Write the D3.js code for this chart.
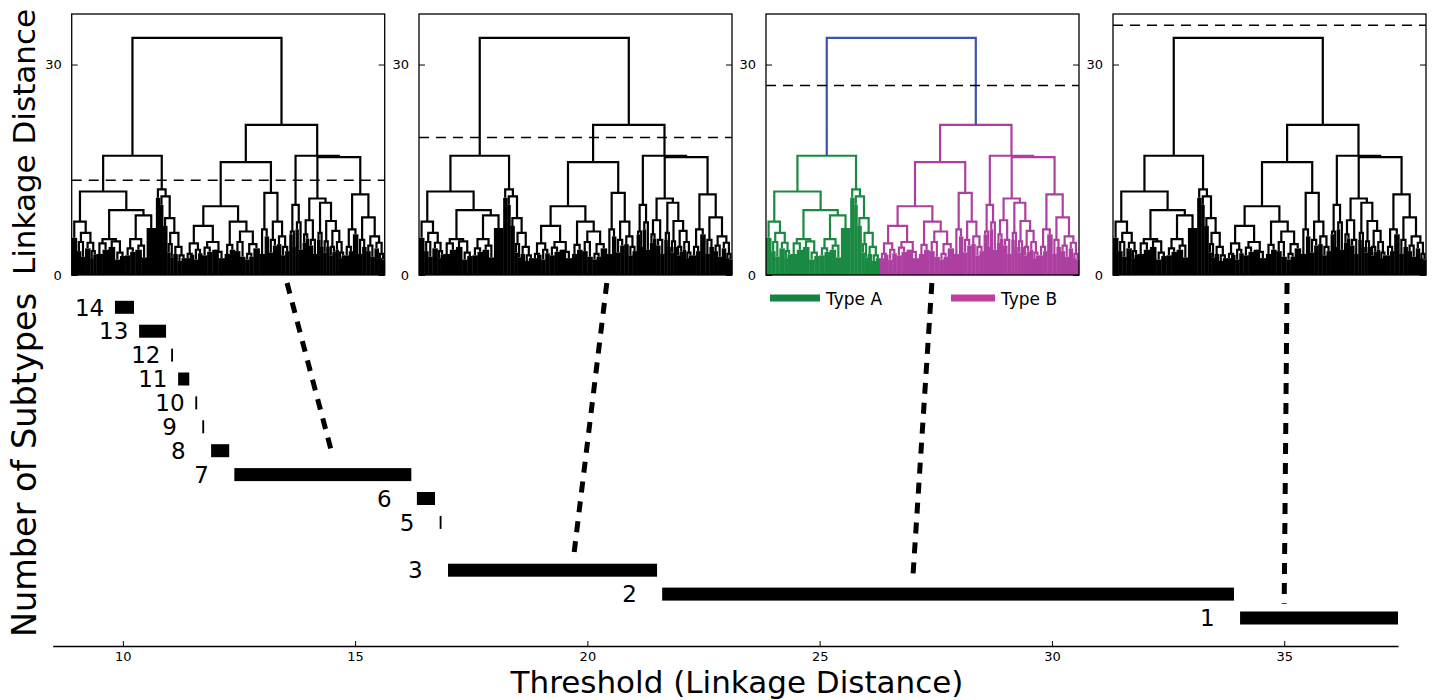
<!DOCTYPE html>
<html lang="en">
<head>
<meta charset="UTF-8">
<script src="https://d3js.org/d3.v7.min.js"></script>
<title>Number of subtypes vs threshold</title>
<style>
    body { margin: 0; background: #fff; }
    text { font-family: "DejaVu Sans", sans-serif; fill: #000; }
</style>
</head>
<body>
<div id="chart"></div>
<script>
    /*------------------- data --------------------*/
    // bottom panel: threshold range giving each number of subtypes
    const subtypeCounts = [14, 13, 12, 11, 10, 9, 8, 7, 6, 5, 3, 2, 1];
    const rangeStart = [9.83, 10.35, 11.04, 11.19, 11.56, 11.71, 11.90, 12.40, 16.33, 16.82, 17.00, 21.61, 34.05];
    const rangeEnd = [10.24, 10.93, 11.08, 11.43, 11.60, 11.75, 12.29, 16.21, 16.72, 16.86, 21.50, 33.92, 37.45];
    const thresholdTicks = [10, 15, 20, 25, 30, 35];

    // dendrogram panels: cut height drawn in each, and where its connector lands
    const panelCuts = [13.5, 19.6, 27.0, 35.6];
    const connectorThreshold = [14.5, 19.7, 27.0, 35.0];
    const connectorLevel = [7.9, 3.5, 2.5, 1.6];
    const connectorFrom = [0.688, 0.60, 0.53, 0.556];
    const linkageTicks = [0, 30];

    // tree: node = [height, left, right], leaf cluster = [size, height]
    const groupL1a = [7.6, [5, 5.3], [6.0, [4.7, [4, 3.4], [4, 2.6]], [4.6, [5, 3.8], [3.4, [3, 2.4], [3, 2.9]]]]];
    const groupL1b = [9.25,
        [5.1, [4.5, [6, 3.0], [6, 3.6]], [4.8, [6, 4.0], [3.2, [5, 2.2], [5, 2.7]]]],
        [8.5, [5.1, [3.8, [5, 2.8], [5, 3.3]], [4.2, [6, 3.6], [5, 2.5]]], [9, 6.7]]];
    const groupL2 = [12.2, [4, 11.0], [11.2, [3, 10.0], [8.1, [4, 7.0],
        [6.0, [4.4, [3, 3.2], [3, 2.5]], [4.0, [4, 3.0], [2.8, [4, 2.0], [4, 2.4]]]]]]];
    const groupR1a = [9.8,
        [7.0, [4.5, [3.0, [4, 2.4], [4, 2.9]], [3.6, [4, 2.2], [4, 3.1]]], [4.7, [3.9, [5, 2.8], [5, 3.3]], [3.3, [6, 3.6], [6, 2.4]]]],
        [7.6, [4.3, [5, 3.0], [5, 3.6]], [6.2, [4.7, [5, 3.4], [5, 2.6]], [4.4, [3.0, [4, 2.2], [4, 2.6]], [6, 3.8]]]]];
    const groupR1b = [11.7, [6.5, [5, 3.0], [4, 5.5]],
        [7.6, [5.0, [4, 3.2], [4, 4.2]], [5.5, [4, 4.4], [4.0, [4, 2.8], [4, 3.4]]]]];
    const groupR2a = [10.0, [6.2, [3, 5.8], [3, 4.0]], [7.5, [3, 6.5], [4, 3.6]]];
    const groupR2b = [16.8,
        [10.9, [7.8, [5.8, [3, 4.6], [3, 5.2]], [5.0, [4, 4.2], [4, 3.0]]],
            [10.3, [6.0, [3, 5.0], [3, 4.0]], [7.7, [4.8, [3, 3.2], [3, 4.0]],
                [6.3, [4.0, [3, 2.8], [3, 3.3]], [4.7, [3, 3.6], [3.2, [3, 2.4], [3, 2.8]]]]]]],
        [11.5, [6.5, [4.0, [4, 2.8], [4, 3.4]], [5, 5.8]],
            [8.2, [5.0, [4, 3.0], [4, 4.0]], [5.5, [4.2, [4, 3.4], [4, 2.6]], [4.6, [4, 3.8], [3.0, [3, 2.4], [3, 2.2]]]]]]];
    const dendroTree = [33.8,
        [17.0, [11.9, groupL1a, groupL1b], groupL2],
        [21.4, [16.1, groupR1a, groupR1b], [17.0, groupR2a, groupR2b]]];

    const clusterNames = ["Type A", "Type B"];
    const clusterColors = ["#1a8a42", "#ad3fa0"];
    const legendColors = ["#148443", "#c23d9c"];
    const aboveColor = "#3d52b3";

    /*------------------- layout --------------------*/
    const width = 1434, height = 700;
    const svg = d3.select("#chart").append("svg")
        .attr("width", width)
        .attr("height", height);

    const x = d3.scaleLinear().domain([8.49, 37.45]).range([52.7, 1398]);
    const y = d3.scaleLinear().domain([1, 14]).range([618, 307.3]);

    const panelW = 313, panelH = 261, panelTop = 14;
    const panelLeft = [71.7, 419, 766, 1113];

    // flatten the tree into leaf clusters and links
    const leaves = [], links = [];
    let slot = 0;
    function layout(node) {
        if (node.length === 2) {
            const leaf = { x0: slot, x1: slot + node[0], x: slot + node[0] / 2, h: node[1], leaf: true };
            slot += node[0];
            leaves.push(leaf);
            return leaf;
        }
        const a = layout(node[1]), b = layout(node[2]);
        const n = { h: node[0], x: (a.x + b.x) / 2, a: a, b: b };
        links.push(n);
        return n;
    }
    const root = layout(dendroTree);
    const totalSlots = slot;

    // colour by cluster for the cut in panel 3
    let nextCluster = 0;
    function paint(n, c, cut) {
        if (c === undefined && (n.leaf || n.h <= cut)) c = nextCluster++;
        n.col = c === undefined ? aboveColor : clusterColors[c];
        if (!n.leaf) { paint(n.a, c, cut); paint(n.b, c, cut); }
    }
    paint(root, undefined, panelCuts[2]);

    const ys = d3.scaleLinear().domain([0, 37.2]).range([panelH, 0]);
    const xs = d3.scaleLinear().domain([0, totalSlots]).range([0, panelW]);

    panelLeft.forEach((left, i) => {
        const colored = i === 2;
        const g = svg.append("g").attr("transform", `translate(${left},${panelTop})`);

        g.selectAll("rect.leaf")
            .data(leaves)
            .enter()
            .append("rect")
            .attr("class", "leaf")
            .attr("x", d => xs(d.x0))
            .attr("width", d => xs(d.x1) - xs(d.x0) + 0.4)
            .attr("y", d => ys(d.h))
            .attr("height", d => ys(0) - ys(d.h))
            .attr("fill", d => colored ? d.col : "#000");

        g.selectAll("path.link")
            .data(links)
            .enter()
            .append("path")
            .attr("class", "link")
            .attr("fill", "none")
            .attr("stroke", d => colored ? d.col : "#000")
            .attr("stroke-width", 2.2)
            .attr("d", d => `M${xs(d.a.x)},${ys(d.a.h)}V${ys(d.h)}H${xs(d.b.x)}V${ys(d.b.h)}`);

        g.append("line")
            .attr("x1", 0).attr("x2", panelW)
            .attr("y1", ys(panelCuts[i])).attr("y2", ys(panelCuts[i]))
            .attr("stroke", "#000")
            .attr("stroke-width", 1.5)
            .attr("stroke-dasharray", "10 7");

        g.append("rect")
            .attr("width", panelW).attr("height", panelH)
            .attr("fill", "none")
            .attr("stroke", "#000")
            .attr("stroke-width", 1.3);

        const left_axis = g.append("g")
            .call(d3.axisLeft(ys).tickValues(linkageTicks).tickSize(-6).tickPadding(10));
        left_axis.select(".domain").remove();
        left_axis.selectAll("text").attr("font-size", 13).style("font-family", "DejaVu Sans");

        const right_axis = g.append("g")
            .attr("transform", `translate(${panelW},0)`)
            .call(d3.axisRight(ys).tickValues(linkageTicks).tickSize(-6).tickFormat(""));
        right_axis.select(".domain").remove();
    });

    // legend under panel 3
    const legendX = [770, 951];
    clusterNames.forEach((name, k) => {
        svg.append("line")
            .attr("x1", legendX[k]).attr("x2", legendX[k] + (k === 0 ? 50 : 44))
            .attr("y1", 298).attr("y2", 298)
            .attr("stroke", legendColors[k])
            .attr("stroke-width", 7);
        svg.append("text")
            .attr("x", legendX[k] + (k === 0 ? 56 : 50))
            .attr("y", 304.5)
            .attr("font-size", 17)
            .text(name);
    });

    // connectors from each panel to its threshold
    panelLeft.forEach((left, i) => {
        svg.append("line")
            .attr("x1", left + connectorFrom[i] * panelW)
            .attr("y1", 283)
            .attr("x2", x(connectorThreshold[i]))
            .attr("y2", y(connectorLevel[i]))
            .attr("stroke", "#000")
            .attr("stroke-width", 5)
            .attr("stroke-dasharray", "11 9");
    });

    /*------------------- bottom panel --------------------*/
    const rows = subtypeCounts.map((c, k) => ({ count: c, start: rangeStart[k], end: rangeEnd[k] }));

    svg.selectAll("rect.bar")
        .data(rows)
        .enter()
        .append("rect")
        .attr("class", "bar")
        .attr("x", d => x(d.start))
        .attr("width", d => x(d.end) - x(d.start))
        .attr("y", d => y(d.count) - 6.5)
        .attr("height", 13)
        .attr("fill", "#000");

    // labels start at a fixed offset left of their bar
    svg.selectAll("text.count")
        .data(rows)
        .enter()
        .append("text")
        .attr("class", "count")
        .attr("x", d => x(d.start) - 40)
        .attr("y", d => y(d.count))
        .attr("dy", "0.36em")
        .attr("font-size", 23)
        .text(d => d.count);

    const xAxis = svg.append("g")
        .attr("transform", "translate(0,646)")
        .call(d3.axisBottom(x).tickValues(thresholdTicks).tickSize(-5).tickSizeOuter(0).tickPadding(5.5));
    xAxis.select(".domain").attr("stroke-width", 1.6);
    xAxis.selectAll("text").attr("font-size", 13).style("font-family", "DejaVu Sans");

    svg.append("text")
        .attr("x", 737).attr("y", 693)
        .attr("text-anchor", "middle")
        .attr("font-size", 31)
        .text("Threshold (Linkage Distance)");

    svg.append("text")
        .attr("transform", "translate(35,142) rotate(-90)")
        .attr("text-anchor", "middle")
        .attr("font-size", 31)
        .text("Linkage Distance");

    svg.append("text")
        .attr("transform", "translate(36,465) rotate(-90)")
        .attr("text-anchor", "middle")
        .attr("font-size", 33.5)
        .text("Number of Subtypes");
</script>
</body>
</html>
